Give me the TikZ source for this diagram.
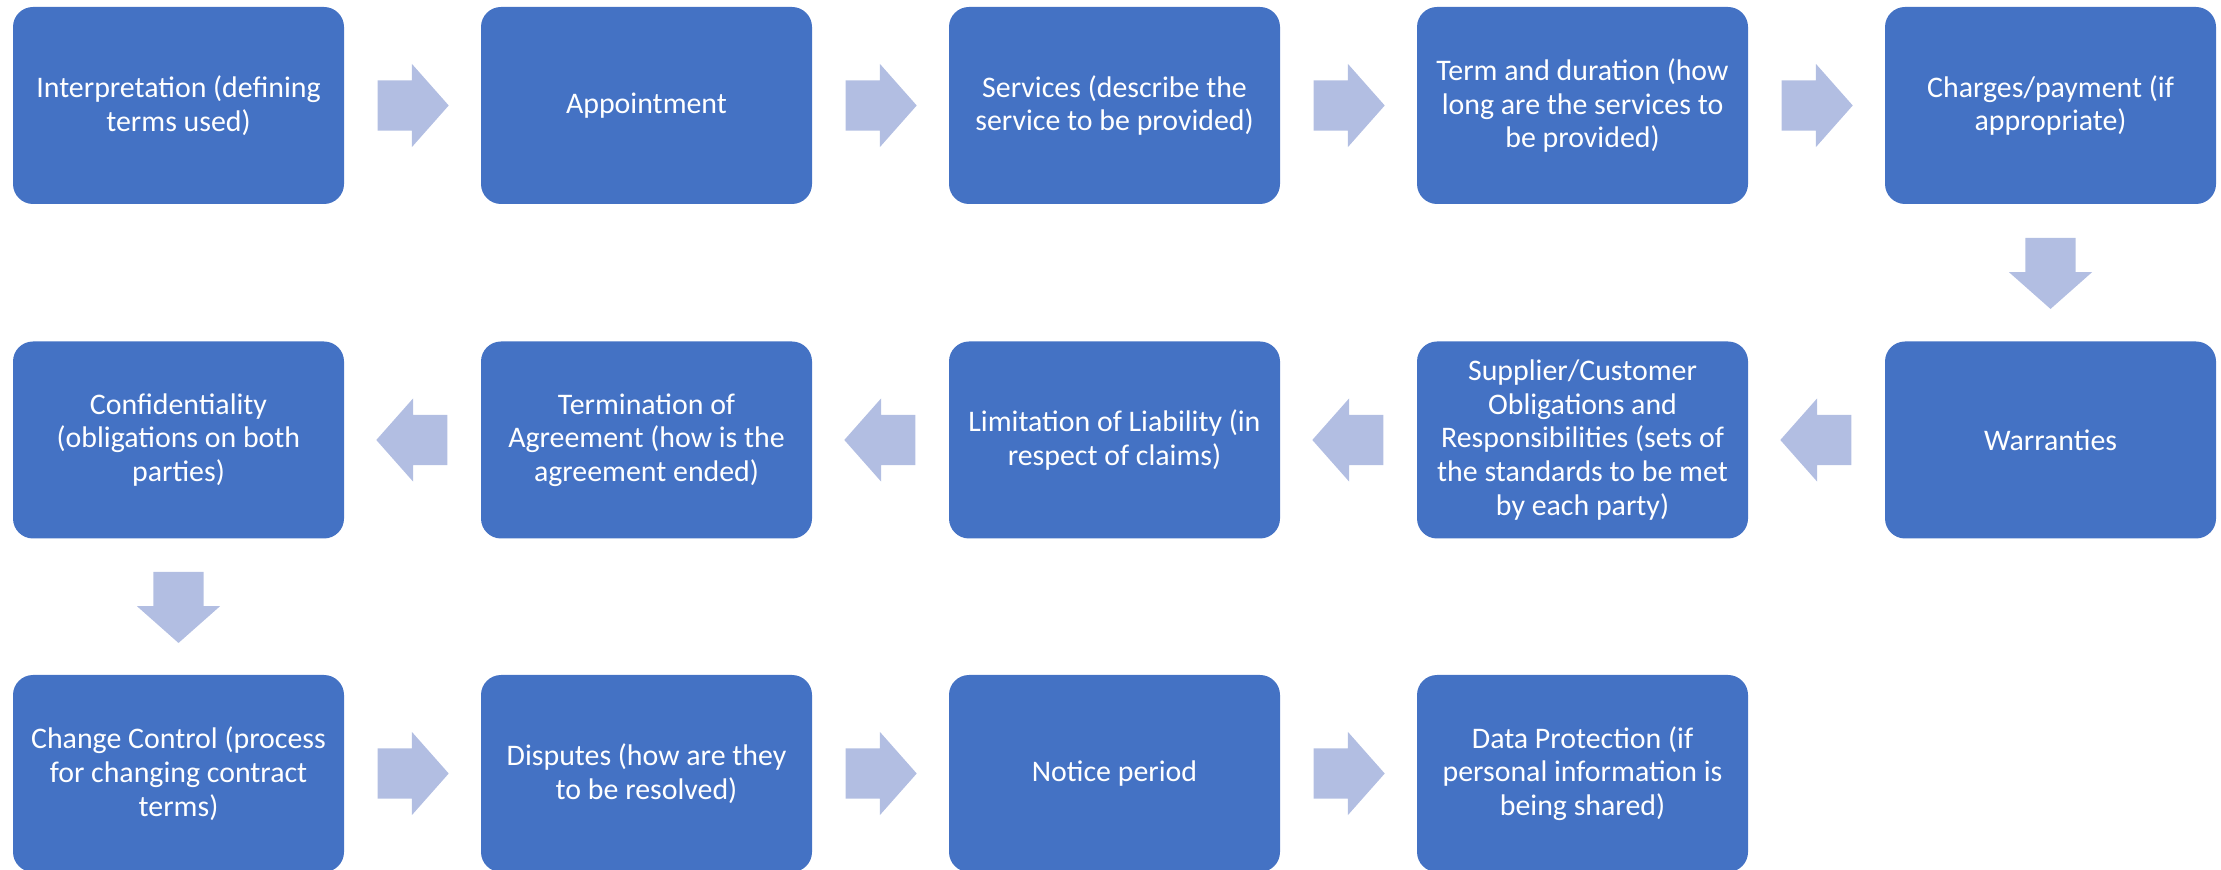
\documentclass[tikz,border=0pt]{standalone}
\usepackage{fontspec}
\setmainfont{Carlito}
\usepackage{tikz}
\usetikzlibrary{shapes.arrows, calc}
\definecolor{boxblue}{HTML}{4472C4}
\definecolor{arrowblue}{RGB}{178,190,226}
\tikzstyle{clause} = [rectangle, rounded corners=0.2cm, minimum width=3.31cm, minimum height=1.97cm, align=center, fill=boxblue, text=white, font=\fontsize{8.5}{9.6}\selectfont]
\tikzstyle{flowarrow} = [single arrow, fill=arrowblue, minimum height=0.71cm, single arrow head extend=0.165cm, single arrow tip angle=97, inner xsep=0pt, inner ysep=0.245cm, anchor=tail]
\tikzstyle{flowright} = [flowarrow, xshift=-0.355cm]
\tikzstyle{flowleft} = [flowarrow, shape border rotate=180, xshift=0.355cm]
\tikzstyle{flowdown} = [flowarrow, shape border rotate=270, inner xsep=0.245cm, inner ysep=0pt, yshift=0.355cm]

\begin{document}
\begin{tikzpicture}[node distance=4.68cm]
		\useasboundingbox (0,0) rectangle (22.21,-8.70);
		% Nodes
		\node (IT) [clause] at (1.785,-1.055) {Interpretation (defining\\terms used)};
		\node (APP) [clause, right of = IT] {Appointment};
		\node (SERV) [clause, right of = APP] {Services (describe the\\service to be provided)};
		\node (TERM) [clause, right of = SERV] {Term and duration (how\\long are the services to\\be provided)};
		\node (CHG) [clause, right of = TERM] {Charges/payment (if\\appropriate)};
		\node (WAR) [clause, below of = CHG, node distance=3.345cm] {Warranties};
		\node (SUP) [clause, left of = WAR] {Supplier/Customer\\Obligations and\\Responsibilities (sets of\\the standards to be met\\by each party)};
		\node (LIM) [clause, left of = SUP] {Limitation of Liability (in\\respect of claims)};
		\node (END) [clause, left of = LIM] {Termination of\\Agreement (how is the\\agreement ended)};
		\node (CONF) [clause, left of = END] {Confidentiality\\(obligations on both\\parties)};
		\node (CC) [clause, below of = CONF, node distance=3.335cm] {Change Control (process\\for changing contract\\terms)};
		\node (DISP) [clause, right of = CC] {Disputes (how are they\\to be resolved)};
		\node (NOT) [clause, right of = DISP] {Notice period};
		\node (DP) [clause, right of = NOT] {Data Protection (if\\personal information is\\being shared)};
		% Arrows
		\node (a1) [flowright] at ($(IT.east)!0.5!(APP.west)$) {};
		\node (a2) [flowright] at ($(APP.east)!0.5!(SERV.west)$) {};
		\node (a3) [flowright] at ($(SERV.east)!0.5!(TERM.west)$) {};
		\node (a4) [flowright] at ($(TERM.east)!0.5!(CHG.west)$) {};
		\node (a5) [flowdown] at ($(CHG.south)!0.5!(WAR.north)$) {};
		\node (a6) [flowleft] at ($(WAR.west)!0.5!(SUP.east)$) {};
		\node (a7) [flowleft] at ($(SUP.west)!0.5!(LIM.east)$) {};
		\node (a8) [flowleft] at ($(LIM.west)!0.5!(END.east)$) {};
		\node (a9) [flowleft] at ($(END.west)!0.5!(CONF.east)$) {};
		\node (a10) [flowdown] at ($(CONF.south)!0.5!(CC.north)$) {};
		\node (a11) [flowright] at ($(CC.east)!0.5!(DISP.west)$) {};
		\node (a12) [flowright] at ($(DISP.east)!0.5!(NOT.west)$) {};
		\node (a13) [flowright] at ($(NOT.east)!0.5!(DP.west)$) {};
	\end{tikzpicture}
\end{document}
